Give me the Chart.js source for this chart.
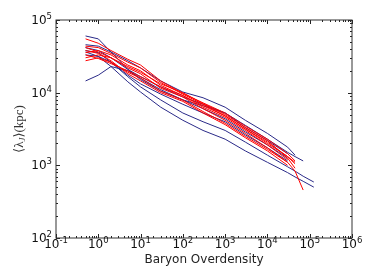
<!DOCTYPE html>
<html>
<head>
<meta charset="utf-8">
<script src="https://cdn.jsdelivr.net/npm/chart.js@4/dist/chart.umd.min.js"></script>
<style>
  html, body { margin: 0; padding: 0; background: #fff; }
  canvas { display: block; }
</style>
</head>
<body>
<canvas id="chart" width="374" height="280"></canvas>
<script>
// baryon overdensity sample points shared by all runs
const overdensity = [0.5, 1, 2, 5, 10, 30, 100, 300, 1000, 3000, 1e4, 3e4, 4.5e4, 7e4, 1.25e5];

// Jeans length (kpc), blue runs
const blueRuns = [
  [60300, 55000, 36300, 20900, 15100, 10500, 7940, 6610, 5250, 3550, 2290, 1510, 1320, 1150],
  [45700, 43700, 36300, 27500, 21900, 14500, 10200, 8510, 6310, 4170, 2750, 1780, 1380],
  [38000, 35500, 26300, 16600, 12000, 7940, 5250, 3980, 3020, 2090, 1380, 955, 832, 708, 589],
  [36300, 31600, 22900, 14100, 10200, 6310, 4170, 3020, 2290, 1580, 1100, 794, 692, 603, 501],
  [14500, 17400, 22900, 20000, 15800, 11000, 7940, 6030, 4370, 2880, 1910, 1260],
  [41700, 38000, 30200, 20900, 16600, 12000, 8710, 6920, 5250, 3310, 2190, 1450],
  [33100, 31600, 26300, 17400, 13200, 9550, 6920, 5250, 3980, 2630, 1740, 1150]
];

// Jeans length (kpc), red runs
const redRuns = [
  [55000, 47900, 38000, 28800, 24000, 14500, 9770, 7240, 5250, 3470, 2290, 1450, 1150],
  [43700, 41700, 34700, 26300, 21900, 13800, 9550, 6920, 4790, 3160, 2090, 1320, 1050],
  [35500, 38000, 33100, 24000, 20000, 12600, 9120, 6310, 4570, 3020, 1910, 1200],
  [30200, 33100, 30200, 21900, 18200, 11500, 8710, 6030, 4170, 2750, 1740, 1100, 832, 457],
  [27500, 30200, 26300, 19100, 15800, 10500, 7940, 5500, 3800, 2510, 1660, 1100],
  [33100, 29500, 25100, 20000, 16600, 12000, 9120, 6610, 4790, 3160, 2000, 1320, 1100],
  [38000, 34700, 27500, 18200, 14500, 10000, 7590, 5250, 3630, 2400, 1580, 1000],
  [41700, 36300, 30200, 22900, 19100, 13200, 10000, 7080, 5010, 3310, 2190, 1260, 912]
];

const xTicks = [0.1, 1, 10, 100, 1000, 1e4, 1e5, 1e6];
const xTickExp = ['-1', '0', '1', '2', '3', '4', '5', '6'];
const yTicks = [100, 1000, 1e4, 1e5];
const yTickExp = ['2', '3', '4', '5'];

const BLUE = '#2a2a88';
const RED = '#ff0000';

function toSeries(vals, color) {
  return {
    data: vals.map((v, i) => ({ x: overdensity[i], y: v })),
    borderColor: color,
    borderWidth: 1,
    pointRadius: 0,
    showLine: true,
    tension: 0,
    fill: false
  };
}

// red drawn on top (dataset 0 is painted last)
const datasets = [
  ...redRuns.map(r => toSeries(r, RED)),
  ...blueRuns.map(r => toSeries(r, BLUE))
];

const BASE_FONT = '12px "DejaVu Sans"';
const EXP_FONT = '8.5px "DejaVu Sans"';

// "10" with a raised exponent, anchored at (x, baseline)
function powerLabel(ctx, exp, x, base, align) {
  ctx.font = BASE_FONT;
  const w1 = ctx.measureText('10').width;
  ctx.font = EXP_FONT;
  const w2 = ctx.measureText(exp).width;
  const left = align === 'right' ? x - w1 - w2 : x - (w1 + w2) / 2;
  ctx.font = BASE_FONT;
  ctx.fillText('10', left, base);
  ctx.font = EXP_FONT;
  ctx.fillText(exp, left + w1, base - 5);
}

// frame, inward ticks, tick labels and the y title
const axesDeco = {
  id: 'axesDeco',
  afterDatasetsDraw(chart) {
    const { ctx, chartArea: a, scales: { x, y } } = chart;
    ctx.save();
    ctx.strokeStyle = '#222';
    ctx.lineWidth = 1;
    ctx.beginPath();
    for (let e = -1; e <= 6; e++) {
      for (let m = 1; m <= 9; m++) {
        const v = m * Math.pow(10, e);
        if (v > 1e6) break;
        const px = Math.round(x.getPixelForValue(v)) + 0.5;
        const len = m === 1 ? 4 : 2;
        ctx.moveTo(px, a.bottom); ctx.lineTo(px, a.bottom - len);
        ctx.moveTo(px, a.top); ctx.lineTo(px, a.top + len);
      }
    }
    for (let e = 2; e <= 5; e++) {
      for (let m = 1; m <= 9; m++) {
        const v = m * Math.pow(10, e);
        if (v > 1e5) break;
        const py = Math.round(y.getPixelForValue(v)) + 0.5;
        const len = m === 1 ? 4 : 2;
        ctx.moveTo(a.left, py); ctx.lineTo(a.left + len, py);
        ctx.moveTo(a.right, py); ctx.lineTo(a.right - len, py);
      }
    }
    ctx.stroke();
    ctx.strokeStyle = '#333';
    ctx.strokeRect(a.left, a.top, a.right - a.left, a.bottom - a.top);

    ctx.fillStyle = '#111';
    ctx.textBaseline = 'alphabetic';
    ctx.textAlign = 'left';
    xTicks.forEach((v, i) => powerLabel(ctx, xTickExp[i], x.getPixelForValue(v), a.bottom + 10, 'center'));
    yTicks.forEach((v, i) => powerLabel(ctx, yTickExp[i], a.left - 4, y.getPixelForValue(v) + 4, 'right'));

    // y axis title: <lambda_J>(kpc)
    ctx.translate(20, (a.top + a.bottom) / 2);
    ctx.rotate(-Math.PI / 2);
    ctx.fillStyle = '#333';
    ctx.textBaseline = 'middle';
    const big = '13px "Liberation Serif", "DejaVu Serif"';
    const small = 'italic 9px "Liberation Serif", "DejaVu Serif"';
    const parts = [
      { t: '⟨λ', f: big, dy: 0 },
      { t: 'J', f: small, dy: 3 },
      { t: '⟩(kpc)', f: big, dy: 0 }
    ];
    let w = 0;
    parts.forEach(p => { ctx.font = p.f; p.w = ctx.measureText(p.t).width; w += p.w; });
    let cx = -w / 2;
    parts.forEach(p => { ctx.font = p.f; ctx.fillText(p.t, cx, p.dy); cx += p.w; });
    ctx.restore();
  }
};

new Chart(document.getElementById('chart'), {
  type: 'scatter',
  data: { datasets },
  options: {
    responsive: false,
    animation: false,
    devicePixelRatio: 1,
    layout: { padding: { top: 20, right: 22, left: 0, bottom: 0 } },
    plugins: {
      legend: { display: false },
      tooltip: { enabled: false }
    },
    scales: {
      x: {
        type: 'logarithmic',
        min: 0.1,
        max: 1e6,
        afterBuildTicks: s => { s.ticks = xTicks.map(v => ({ value: v })); },
        afterFit: s => { s.height = 42; },
        grid: { display: false, drawTicks: false },
        border: { display: false },
        ticks: { display: false },
        title: {
          display: true,
          text: 'Baryon Overdensity',
          color: '#222',
          font: { family: 'DejaVu Sans', size: 12 },
          padding: { top: 0, bottom: 13 }
        }
      },
      y: {
        type: 'logarithmic',
        min: 100,
        max: 1e5,
        afterBuildTicks: s => { s.ticks = yTicks.map(v => ({ value: v })); },
        afterFit: s => { s.width = 56; },
        grid: { display: false, drawTicks: false },
        border: { display: false },
        ticks: { display: false }
      }
    }
  },
  plugins: [axesDeco]
});
</script>
</body>
</html>
